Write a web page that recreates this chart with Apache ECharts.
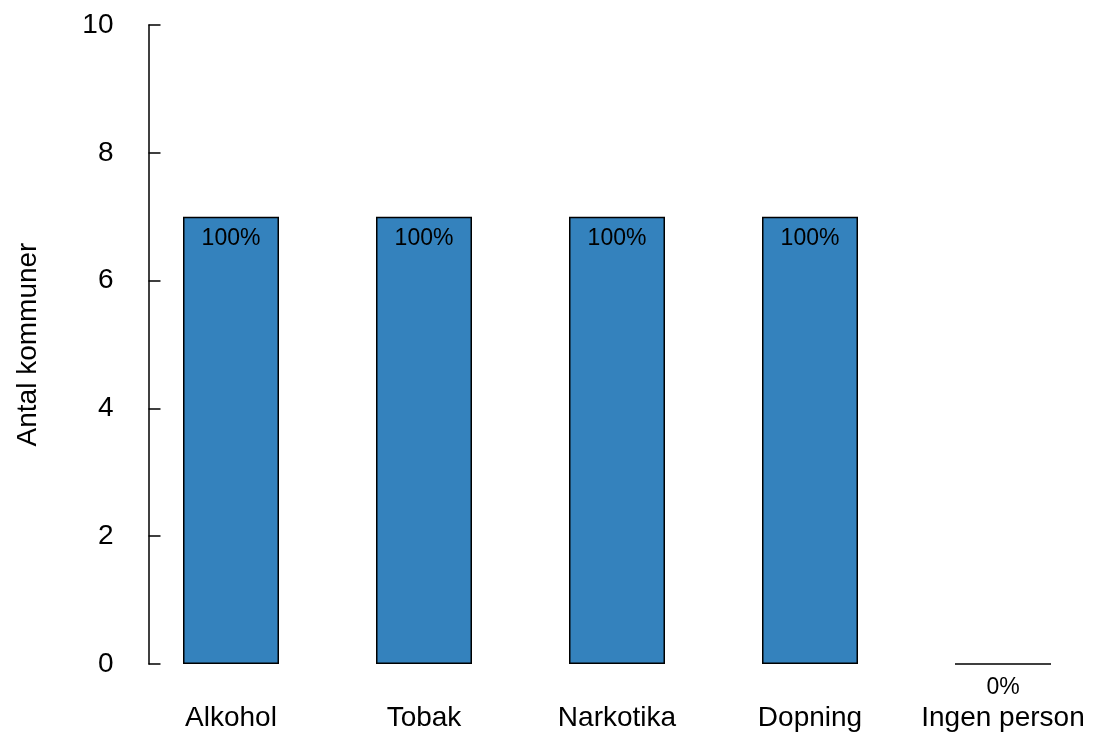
<!DOCTYPE html>
<html>
<head>
<meta charset="utf-8">
<script src="https://cdn.jsdelivr.net/npm/echarts@6/dist/echarts.min.js"></script>
<style>
  html, body { margin: 0; padding: 0; background: #ffffff; }
  #main { width: 1094px; height: 735px; }
</style>
</head>
<body>
<div id="main"></div>
<script>
  // data
  var categories = ['Alkohol', 'Tobak', 'Narkotika', 'Dopning', 'Ingen person'];
  var counts = [7, 7, 7, 7, 0];
  var shares = ['100%', '100%', '100%', '100%', '0%'];
  var yTicks = [0, 2, 4, 6, 8, 10];

  var font = 'Liberation Sans, Arial, sans-serif';

  var seriesData = counts.map(function (v, i) {
    return {
      value: v,
      label: v === 0 ? { position: 'bottom', distance: 11 } : {}
    };
  });

  var chart = echarts.init(document.getElementById('main'));
  chart.setOption({
    animation: false,
    backgroundColor: '#ffffff',
    grid: {
      left: 134.5,
      width: 965,
      top: 25,
      bottom: 71,
      outerBoundsMode: 'none'
    },
    xAxis: {
      type: 'category',
      data: categories,
      axisLine: { show: false },
      axisTick: { show: false },
      axisLabel: {
        color: '#000',
        fontFamily: font,
        fontSize: 28,
        margin: 40,
        interval: 0
      }
    },
    yAxis: {
      type: 'value',
      min: yTicks[0],
      max: yTicks[yTicks.length - 1],
      interval: 2,
      offset: -14,
      name: 'Antal kommuner',
      nameLocation: 'middle',
      nameGap: 106,
      nameTextStyle: { color: '#000', fontFamily: font, fontSize: 28 },
      splitLine: { show: false },
      axisLine: { show: true, lineStyle: { color: '#000', width: 1.5 } },
      axisTick: { show: true, inside: true, length: 12, lineStyle: { color: '#000', width: 1.5 } },
      axisLabel: {
        color: '#000',
        fontFamily: font,
        fontSize: 28,
        margin: 35
      }
    },
    series: [{
      type: 'bar',
      data: seriesData,
      barWidth: 96,
      itemStyle: {
        color: '#3482bd',
        borderColor: '#000',
        borderWidth: 1.5
      },
      label: {
        show: true,
        position: 'insideTop',
        distance: 10,
        color: '#000',
        fontFamily: font,
        fontSize: 23,
        formatter: function (p) { return shares[p.dataIndex]; }
      }
    }]
  });
</script>
</body>
</html>
